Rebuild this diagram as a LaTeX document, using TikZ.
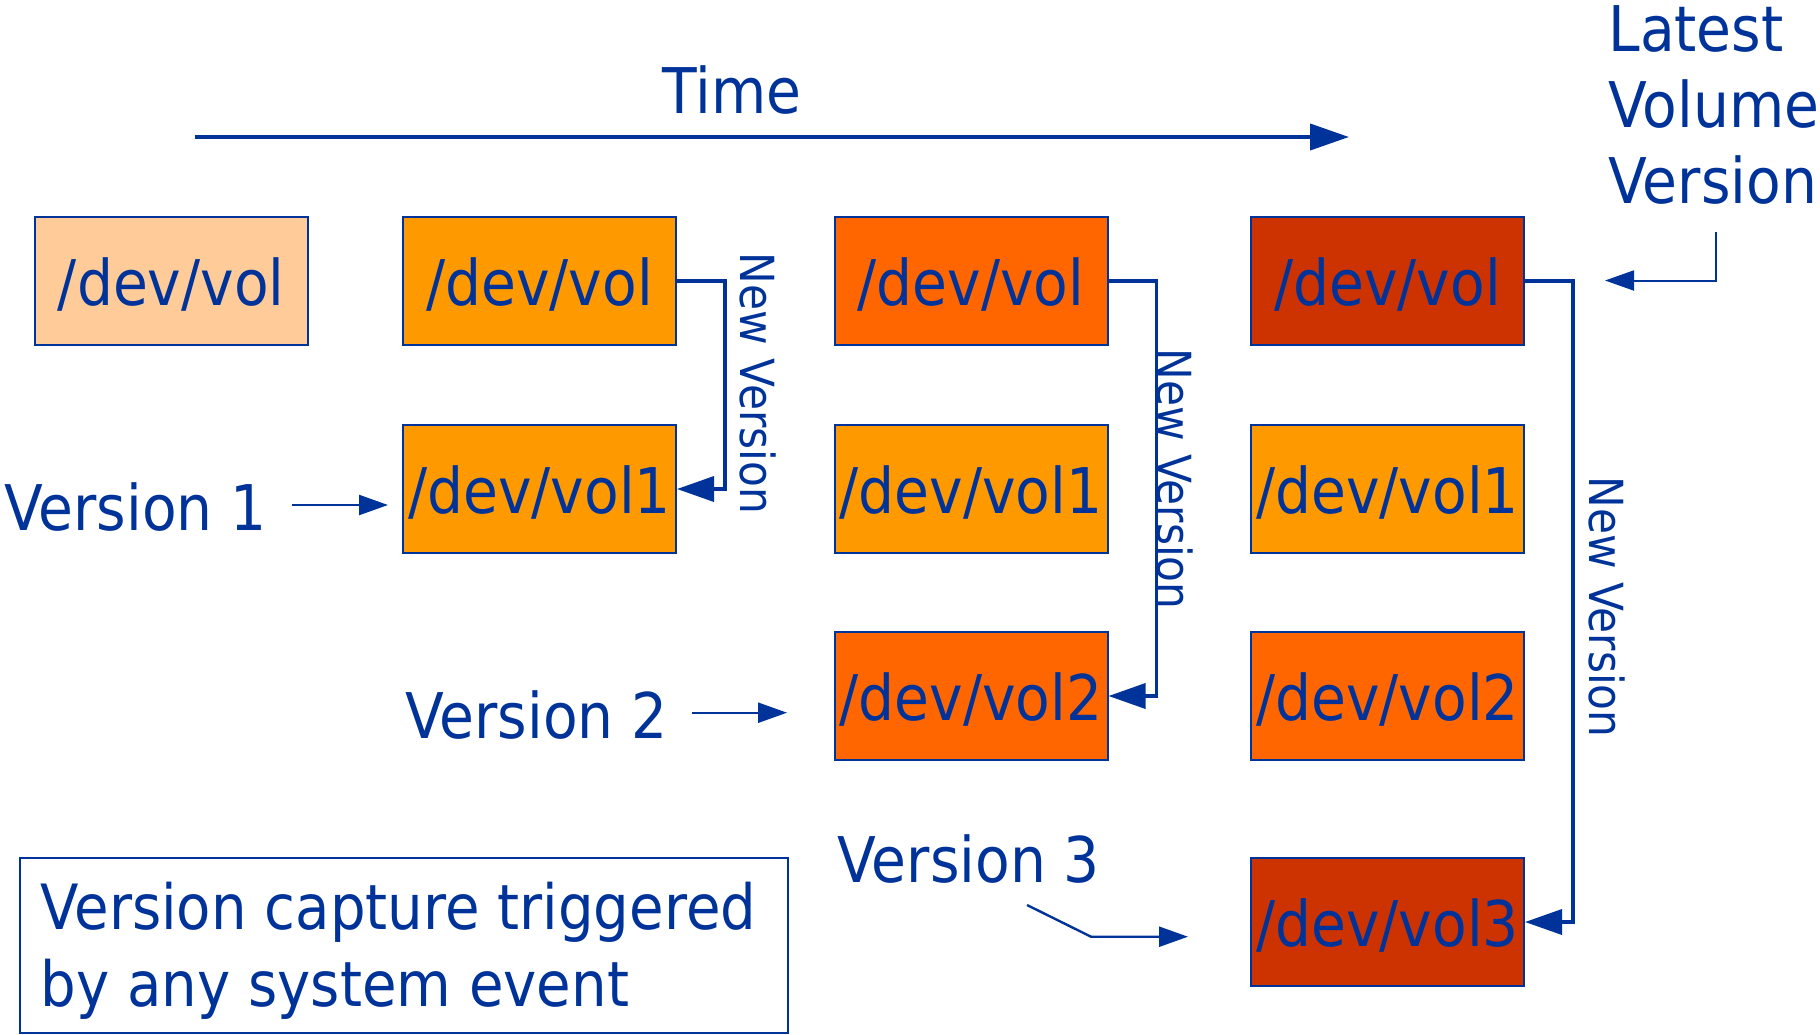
\documentclass[tikz,border=0pt]{standalone}
\usepackage{fontspec}
\setmainfont{DejaVu Sans}[FakeStretch=0.9]
\usetikzlibrary{arrows.meta}

\definecolor{ink}{HTML}{003399}
\definecolor{peach}{HTML}{FFCC99}
\definecolor{amber}{HTML}{FF9900}
\definecolor{flame}{HTML}{FF6600}
\definecolor{rust}{HTML}{CC3300}

\begin{document}
\begin{tikzpicture}[x=0.5pt,y=-0.5pt,
  every node/.style={text=ink},
  volbox/.style={draw=ink, line width=1pt, minimum width=136.5pt, minimum height=64pt,
    inner sep=0pt, text height=24pt, text depth=0pt, font=\fontsize{31.5}{38}\selectfont},
  bigtext/.style={font=\fontsize{31.5}{38}\selectfont, inner sep=0pt},
  sidelabel/.style={font=\fontsize{23.5}{28}\selectfont, inner sep=0pt, rotate=-90, anchor=base},
  linkarrow/.style={draw=ink, line width=1.8pt, -{Triangle[length=18.5pt,width=12.5pt]}},
  ptrarrow/.style={draw=ink, line width=1.2pt, -{Triangle[length=14.5pt,width=10pt]}},
  timearrow/.style={draw=ink, line width=2pt, -{Triangle[length=19.5pt,width=13pt]}},
]
\useasboundingbox (0,0) rectangle (1820,1034);

% time axis
\coordinate (tstart) at (195,137);
\coordinate (tend) at (1349,137);
\draw[timearrow] (tstart) -- (tend);
\node[bigtext, anchor=base] (time) at (732,113) {Time};

% volume snapshots, one column per point in time
\node[volbox, fill=peach] (A0) at (171.3,281) {/dev/vol};

\node[volbox, fill=amber] (B0) at (539.5,281) {/dev/vol};
\node[volbox, fill=amber] (B1) at (539.5,489) {/dev/vol1};

\node[volbox, fill=flame] (C0) at (971,281) {/dev/vol};
\node[volbox, fill=amber] (C1) at (971,489) {/dev/vol1};
\node[volbox, fill=flame] (C2) at (971,696) {/dev/vol2};

\node[volbox, fill=rust]  (D0) at (1387.5,281) {/dev/vol};
\node[volbox, fill=amber] (D1) at (1387.5,489) {/dev/vol1};
\node[volbox, fill=flame] (D2) at (1387.5,696) {/dev/vol2};
\node[volbox, fill=rust]  (D3) at (1387.5,922) {/dev/vol3};

% new-version links
\draw[linkarrow] (B0.east) -- ++(48,0) |- (B1.east);
\draw[linkarrow] (C0.east) -- ++(48,0) |- (C2.east);
\draw[linkarrow] (D0.east) -- ++(48,0) |- (D3.east);
\node[sidelabel] (nv1) at (740,383.5) {New Version};
\node[sidelabel] (nv2) at (1157,479) {New Version};
\node[sidelabel] (nv3) at (1589,607) {New Version};

% version captions
\node[bigtext, anchor=base west] (v1) at (4,530) {Version 1};
\coordinate (v1from) at (292,505);
\coordinate (v1to) at (388,505);
\draw[ptrarrow] (v1from) -- (v1to);

\node[bigtext, anchor=base west] (v2) at (405,738) {Version 2};
\coordinate (v2from) at (692,712.7);
\coordinate (v2to) at (787,712.7);
\draw[ptrarrow] (v2from) -- (v2to);

\node[bigtext, anchor=base west] (v3) at (837,882) {Version 3};
\coordinate (v3from) at (1027,905);
\coordinate (v3bend) at (1091,936.7);
\coordinate (v3to) at (1188,936.7);
\draw[ptrarrow] (v3from) -- (v3bend) -- (v3to);

% latest version pointer
\node[bigtext, anchor=north west, align=left] (latest) at (1608,5) {Latest\\Volume\\Version};
\coordinate (lfrom) at (1715.7,232);
\coordinate (lto) at (1605,280.5);
\draw[ptrarrow, line width=1pt] (lfrom) |- (lto);

% note
\node[draw=ink, line width=1pt, minimum width=384pt, minimum height=87.5pt,
  inner sep=0pt, anchor=north west] (note) at (18.6,857) {};
\node[bigtext, anchor=north west, align=left, font=\fontsize{31.2}{38.5}\selectfont]
  (notetext) at (40,882) {Version capture triggered\\by any system event};
\end{tikzpicture}
\end{document}
